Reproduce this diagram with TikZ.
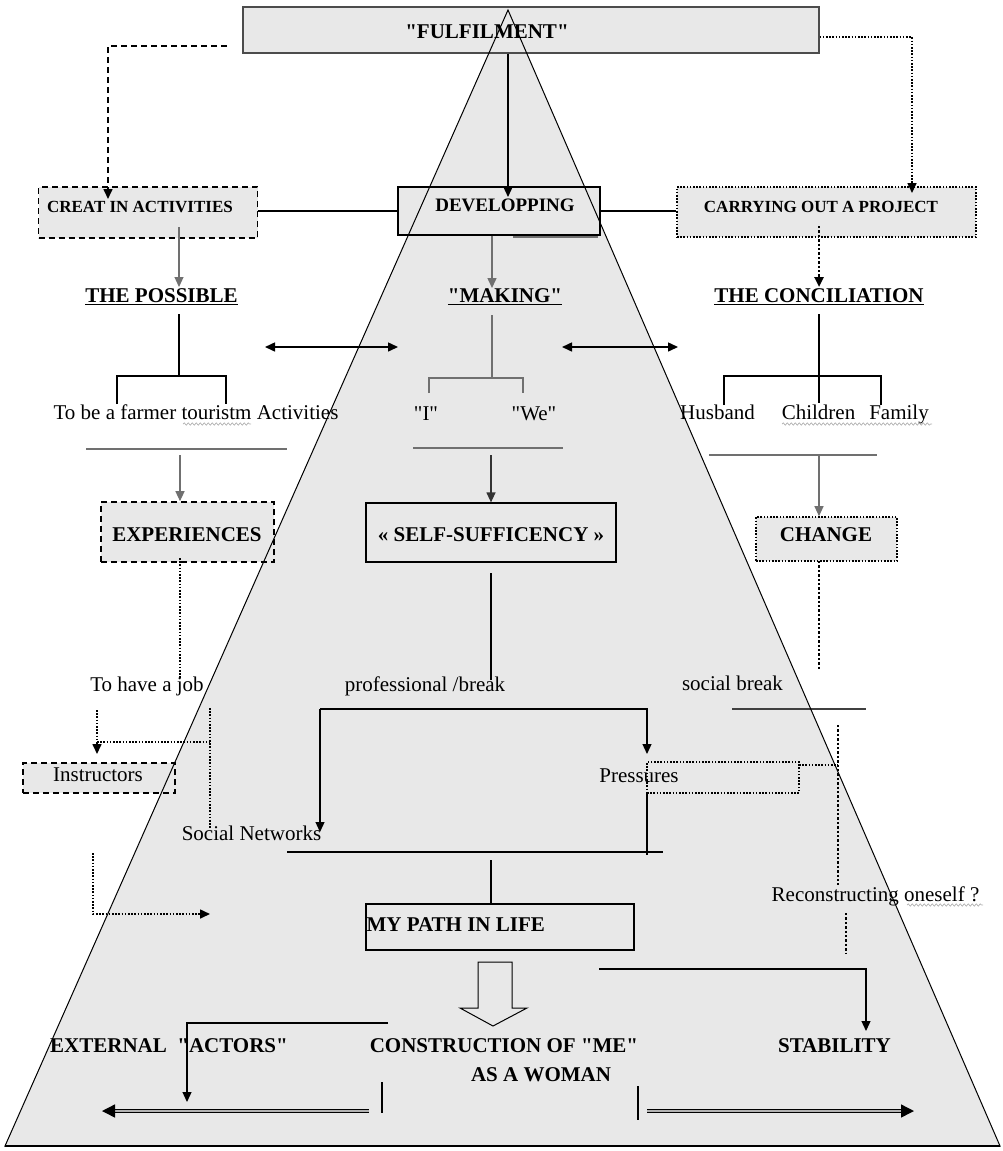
\documentclass[tikz,border=0pt]{standalone}
\usepackage{fontspec}
\setmainfont{Liberation Serif}[Ligatures=TeXOff]
\usetikzlibrary{arrows.meta,decorations.pathmorphing}
\definecolor{tri}{HTML}{E8E8E8}
\definecolor{gln}{HTML}{707070}
\begin{document}
\begin{tikzpicture}[x=1pt,y=-1pt,line width=1.2pt,
  font=\fontsize{21}{25}\selectfont,
  >={Triangle[length=10pt,width=9pt]},
  box/.style={draw,fill=tri,inner sep=0pt},
  dashbox/.style={box,dash pattern=on 6pt off 4pt,line width=1.6pt},
  dotbox/.style={box,dash pattern=on 1.6pt off 1.6pt,line width=1.6pt},
  txt/.style={inner sep=0pt,text height=14pt,text depth=0pt},
  btxt/.style={txt,font=\fontsize{21}{25}\selectfont\bfseries},
  dotline/.style={dash pattern=on 1.6pt off 1.6pt,line width=1.6pt},
  dotthick/.style={dash pattern=on 2.4pt off 2pt,line width=2.4pt},
  dashline/.style={dash pattern=on 6pt off 4pt,line width=1.6pt},
  gray line/.style={draw=gln,line width=1.5pt},
  under line/.style={draw=gln,line width=2.2pt},
  squig/.style={draw=gray!60,line width=0.7pt,decorate,decoration={snake,amplitude=1.2pt,segment length=4pt}},
  dbl/.style={draw=black,double=gray!60,double distance=1.8pt,line width=1.4pt,-{Triangle[length=13pt,width=13pt]}}]
\useasboundingbox (0,0) rectangle (1002,1151);
% background triangle
\fill[tri] (508,10) -- (1000,1146) -- (5,1146) -- cycle;

% boxes
\node[box,draw=black!70,line width=1.3pt,minimum width=576pt,minimum height=46pt] (fulf) at (531,30) {};
\node[dashbox,minimum width=219pt,minimum height=51pt] (creat) at (148,212.5) {};
\node[box,line width=1.4pt,minimum width=202pt,minimum height=48pt] (dev) at (499,211) {};
\node[dotbox,minimum width=299pt,minimum height=50pt] (carry) at (826.5,212) {};
\node[dashbox,minimum width=173pt,minimum height=60pt] (exper) at (187.5,532) {};
\node[box,minimum width=250pt,minimum height=59pt] (self) at (491,532.5) {};
\node[dotbox,minimum width=141pt,minimum height=44pt] (change) at (826.5,539) {};
\node[dashbox,minimum width=152pt,minimum height=30pt] (instr) at (99,778) {};
\node[dotbox,minimum width=152pt,minimum height=31pt] (press) at (723,777.5) {};
\node[box,minimum width=268pt,minimum height=46pt] (path) at (500,927) {};

% texts
\node[btxt] (fulft) at (487,31) {"FULFILMENT"};
\node[btxt,font=\fontsize{17}{20}\selectfont\bfseries,text height=12pt] (creatt) at (140,206) {CREAT IN ACTIVITIES};
\node[btxt,font=\fontsize{19}{22}\selectfont\bfseries,text height=13pt] (devt) at (505,205) {DEVELOPPING};
\node[btxt,font=\fontsize{17}{20}\selectfont\bfseries,text height=12pt] (carryt) at (821,206) {CARRYING OUT A PROJECT};
\node[btxt,text depth=3pt] (poss) at (161.5,297) {\underline{THE POSSIBLE}};
\node[btxt,text depth=3pt] (making) at (505,297) {\underline{"MAKING"}};
\node[btxt,text depth=3pt] (concil) at (819,297) {\underline{THE CONCILIATION}};
\node[txt] (farmer) at (196,412) {To be a farmer touristm Activities};
\node[txt] (iword) at (426,413) {"I"};
\node[txt] (weword) at (534,413) {"We"};
\node[txt] (husband) at (717.5,412) {Husband};
\node[txt] (children) at (818.5,412) {Children};
\node[txt] (family) at (899,412) {Family};
\node[btxt] (expert) at (187,534) {EXPERIENCES};
\node[btxt] (selft) at (491,534) {« SELF-SUFFICENCY »};
\node[btxt] (changet) at (826,534) {CHANGE};
\node[txt] (job) at (147,684) {To have a job};
\node[txt] (prof) at (425,684) {professional /break};
\node[txt] (socbreak) at (732.5,683) {social break};
\node[txt] (instrt) at (98,774) {Instructors};
\node[txt] (pressT) at (639,775) {Pressures};
\node[txt] (socnet) at (251.5,833) {Social Networks};
\node[txt] (recon) at (875.5,894) {Reconstructing oneself ?};
\node[btxt,anchor=west] (patht) at (366,924) {MY PATH IN LIFE};
\node[btxt] (external) at (169,1045) {EXTERNAL \ "ACTORS"};
\node[btxt] (constr) at (504,1045) {CONSTRUCTION OF "ME"};
\node[btxt] (woman) at (541,1074) {AS A WOMAN};
\node[btxt] (stab) at (834.5,1045) {STABILITY};

% named points
\path (227,46) coordinate (fulfL) (108,199) coordinate (creatIn)
      (912,193) coordinate (carryIn) (508,197) coordinate (devIn)
      (513,237) coordinate (du1) (598,237) coordinate (du2)
      (492,288) coordinate (makIn) (179,227) coordinate (creatOut) (179,287) coordinate (possIn)
      (819,226) coordinate (carryOut) (819,287) coordinate (concilIn)
      (179,314) coordinate (pv1) (179,376) coordinate (pv2)
      (117,404) coordinate (pl1) (117,376) coordinate (pl2) (226,376) coordinate (pr2) (226,404) coordinate (pr1)
      (492,315) coordinate (mv1) (492,378) coordinate (mv2)
      (429,393) coordinate (ml1) (429,378) coordinate (ml2) (523,378) coordinate (mr2) (523,393) coordinate (mr1)
      (819,314) coordinate (cv1) (819,403) coordinate (cv2)
      (724,405) coordinate (cl1) (724,376) coordinate (cl2) (881,376) coordinate (cr2) (881,405) coordinate (cr1)
      (265,347) coordinate (h1a) (398,347) coordinate (h1b) (562,347) coordinate (h2a) (678,347) coordinate (h2b)
      (86,449) coordinate (ul1) (287,449) coordinate (ul2)
      (413,448) coordinate (um1) (563,448) coordinate (um2)
      (709,455) coordinate (ur1) (877,455) coordinate (ur2)
      (180,455) coordinate (ea) (491,455) coordinate (sa) (819,455) coordinate (ca)
      (180,558) coordinate (ed1) (180,678) coordinate (ed2)
      (491,573) coordinate (sd1) (491,680) coordinate (sd2)
      (819,561) coordinate (chd1) (819,670) coordinate (chd2)
      (320,709) coordinate (bl) (647,709) coordinate (br) (320,832) coordinate (socIn) (647,754) coordinate (pressIn)
      (732,709) coordinate (sb1) (866,709) coordinate (sb2)
      (97,710) coordinate (j1) (97,754) coordinate (instrIn) (97,742) coordinate (j2) (210,742) coordinate (j3)
      (210,708) coordinate (j4) (210,828) coordinate (j5)
      (287,852) coordinate (sn1) (663,852) coordinate (sn2) (647,793) coordinate (pv3) (647,855) coordinate (pv4)
      (491,860) coordinate (pt1)
      (799,765) coordinate (pd1) (838,765) coordinate (pd2) (838,725) coordinate (pd3) (838,885) coordinate (pd4)
      (846,913) coordinate (pd5) (846,953) coordinate (pd6)
      (93,853) coordinate (bd1) (210,914) coordinate (bd2)
      (599,969) coordinate (rs1) (866,1031) coordinate (stabIn)
      (388,1023) coordinate (ls1) (187,1102) coordinate (extIn)
      (382,1082) coordinate (v1a) (382,1113) coordinate (v1b) (638,1086) coordinate (v2a) (638,1120) coordinate (v2b)
      (369,1111) coordinate (da1) (102,1111) coordinate (da2) (647,1111) coordinate (db1) (914,1111) coordinate (db2)
      (183,424) coordinate (w1a) (251,424) coordinate (w1b) (782,424) coordinate (w2a) (932,424) coordinate (w2b)
      (907,905) coordinate (w3a) (983,905) coordinate (w3b);

% connectors, top
\draw[dashline,->] (fulfL) -| (creatIn);
\draw[dotline,->] (fulf.east |- fulfL) ++(0,-9) -| (carryIn);
\draw[->] (fulf.south -| devIn) -- (devIn);
\draw (creat.east |- dev.west) -- (dev.west);
\draw (dev.east) -- (carry.west |- dev.east);
\draw[under line] (du1) -- (du2);
\draw[gray line,->] (dev.south -| makIn) -- (makIn);
\draw[gray line,line width=1.2pt,->] (creatOut) -- (possIn);
\draw[dotthick,->] (carryOut) -- (concilIn);
% brackets
\draw (pv1) -- (pv2);
\draw (pl1) -- (pl2) -- (pr2) -- (pr1);
\draw[gray line] (mv1) -- (mv2);
\draw[gray line] (ml1) -- (ml2) -- (mr2) -- (mr1);
\draw (cv1) -- (cv2);
\draw (cl1) -- (cl2) -- (cr2) -- (cr1);
\draw[line width=1.5pt,<->] (h1a) -- (h1b);
\draw[line width=1.5pt,<->] (h2a) -- (h2b);
\draw[under line] (ul1) -- (ul2);
\draw[under line] (um1) -- (um2);
\draw[under line] (ur1) -- (ur2);
\draw[gray line,line width=1.2pt,->] (ea) -- (ea |- exper.north);
\draw[draw=black!80,->] (sa) -- (self.north);
\draw[gray line,line width=1.2pt,->] (ca) -- (ca |- change.north);
\draw[squig] (w1a) -- (w1b);
\draw[squig] (w2a) -- (w2b);
\draw[squig] (w3a) -- (w3b);
% middle
\draw[dotline,line width=1.4pt] (ed1) -- (ed2);
\draw (sd1) -- (sd2);
\draw[dotthick] (chd1) -- (chd2);
\draw[->] (bl) -- (socIn);
\draw[->] (bl) -- (br) -- (pressIn);
\draw[draw=black!75,line width=1.6pt] (sb1) -- (sb2);
\draw[dotline,->] (j1) -- (instrIn);
\draw[dotline] (j2) -- (j3);
\draw[dotline] (j4) -- (j5);
\draw (sn1) -- (sn2);
\draw (pv3) -- (pv4);
\draw (pt1) -- (path.north -| pt1);
\draw[dotline] (pd1) -- (pd2);
\draw[dotthick] (pd3) -- (pd4);
\draw[dotthick] (pd5) -- (pd6);
\draw[dotline,->] (bd1) |- (bd2);
% bottom
\draw[line width=1pt] (478,962) -- (512,962) -- (512,1008) -- (527,1008) -- (493,1026) -- (460,1008) -- (478,1008) -- cycle;
\draw[->] (rs1) -| (stabIn);
\draw[->] (ls1) -| (extIn);
\draw (v1a) -- (v1b);
\draw (v2a) -- (v2b);
\draw[dbl] (da1) -- (da2);
\draw[dbl] (db1) -- (db2);

% triangle outline on top
\draw[line width=1pt] (508,10) -- (1000,1146) -- (5,1146) -- cycle;
\draw[line width=2pt] (5,1146) -- (1000,1146);
\end{tikzpicture}
\end{document}
